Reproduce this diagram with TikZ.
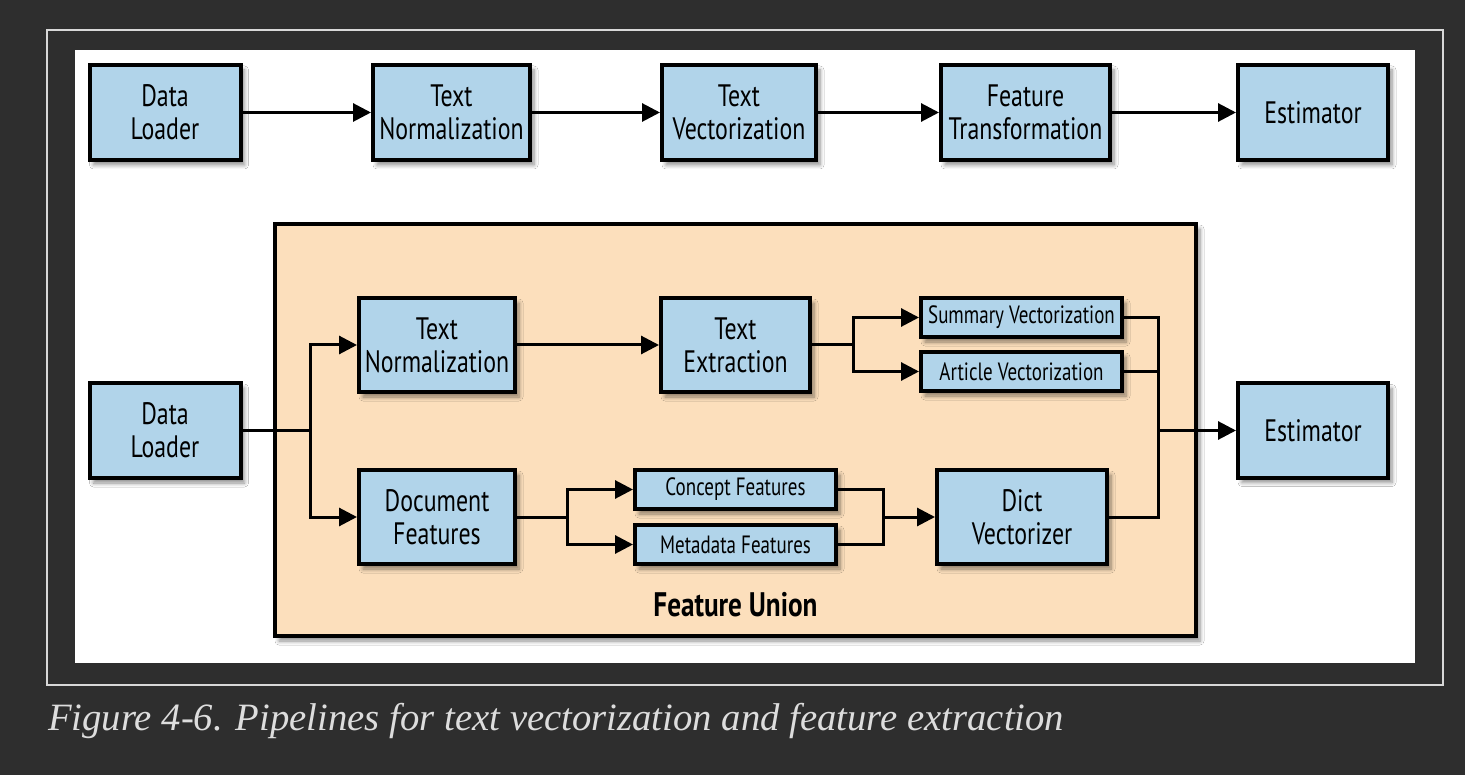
\documentclass[tikz,border=0pt]{standalone}
\usepackage{fontspec}
\setmainfont{Liberation Serif}
\newfontfamily\boxfont[FakeStretch=0.77]{PT Sans}
\newfontfamily\smallfont[FakeStretch=0.76]{PT Sans}
\newfontfamily\unionfont[FakeStretch=0.8]{PT Sans}
\usetikzlibrary{arrows.meta,shadows.blur,calc}
\definecolor{bgdark}{HTML}{2E2E2E}
\definecolor{frameline}{HTML}{D8D8D8}
\definecolor{boxblue}{HTML}{B1D4EA}
\definecolor{unionfill}{HTML}{FCDFBC}
\definecolor{captiongray}{HTML}{DDDDDD}
\tikzset{
  shadowed/.style={blur shadow={shadow xshift=4pt,shadow yshift=-5pt,shadow blur radius=4pt,shadow blur steps=6,shadow opacity=45}},
  bigbox/.style={draw=black,line width=4pt,fill=boxblue,shadowed,align=center,inner sep=0pt,
     font=\boxfont\fontsize{31}{33}\selectfont},
  smallbox/.style={draw=black,line width=4pt,fill=boxblue,shadowed,align=center,inner sep=0pt,
     minimum width=201pt,minimum height=39pt,font=\smallfont\fontsize{25}{27}\selectfont},
  unionbox/.style={draw=black,line width=4pt,fill=unionfill,shadowed,inner sep=0pt},
  link/.style={line width=3pt,draw=black},
  arr/.style={link,-{Triangle[length=18pt,width=18pt]}},
}
\begin{document}
\begin{tikzpicture}[x=1pt,y=-1pt]
\fill[bgdark] (0,0) rectangle (1465,775);
\useasboundingbox (0,0) rectangle (1465,775);
\draw[frameline,line width=1.5pt] (47,30) rectangle (1443,685);
\fill[white] (75,50) rectangle (1415,663);

% top pipeline
\node[bigbox,minimum width=151pt,minimum height=95pt] (dl1) at (165,112.5) {Data\\Loader};
\node[bigbox,minimum width=157pt,minimum height=95pt] (tn1) at (451.5,112.5) {Text\\Normalization};
\node[bigbox,minimum width=154pt,minimum height=95pt] (tv1) at (739,112.5) {Text\\Vectorization};
\node[bigbox,minimum width=169pt,minimum height=95pt] (ft1) at (1025.5,112.5) {Feature\\Transformation};
\node[bigbox,minimum width=150pt,minimum height=95pt] (es1) at (1313,112.5) {Estimator};
\draw[arr] (dl1) -- (tn1);
\draw[arr] (tn1) -- (tv1);
\draw[arr] (tv1) -- (ft1);
\draw[arr] (ft1) -- (es1);

% feature union
\node[unionbox,minimum width=921pt,minimum height=412pt] (fu) at (735.5,430) {};
\node[font=\unionfont\fontsize{34}{36}\selectfont\bfseries] (ful) at (735.5,605) {Feature Union};

\node[bigbox,minimum width=151pt,minimum height=95pt] (dl2) at (165,430.5) {Data\\Loader};
\node[bigbox,minimum width=156pt,minimum height=94pt] (tn2) at (437,345) {Text\\Normalization};
\node[bigbox,minimum width=156pt,minimum height=94pt] (df2) at (437,517) {Document\\Features};
\node[bigbox,minimum width=149pt,minimum height=94pt] (te2) at (735.5,345) {Text\\Extraction};
\node[smallbox] (sv) at (1021.5,317.5) {Summary Vectorization};
\node[smallbox] (av) at (1021.5,371.5) {Article Vectorization};
\node[smallbox] (cf) at (735.5,489.5) {Concept Features};
\node[smallbox] (mf) at (735.5,544.5) {Metadata Features};
\node[bigbox,minimum width=170pt,minimum height=94pt] (dv) at (1022,517) {Dict\\Vectorizer};
\node[bigbox,minimum width=150pt,minimum height=94pt] (es2) at (1313,430.5) {Estimator};

\coordinate (b1) at (310,430.5);
\coordinate (b2) at (853,345);
\coordinate (b3) at (567,517);
\coordinate (m1) at (1158,430.5);
\coordinate (m2) at (883,517);

\draw[link] (dl2.east) -- (b1);
\draw[arr] (b1) |- (tn2.west);
\draw[arr] (b1) |- (df2.west);
\draw[arr] (tn2) -- (te2);
\draw[link] (te2.east) -- (b2);
\draw[arr] (b2) |- (sv.west);
\draw[arr] (b2) |- (av.west);
\draw[link] (df2.east) -- (b3);
\draw[arr] (b3) |- (cf.west);
\draw[arr] (b3) |- (mf.west);
\draw[link] (cf.east) -| (m2);
\draw[link] (mf.east) -| (m2);
\draw[arr] (m2) -- (dv.west);
\draw[link] (sv.east) -| (m1);
\draw[link] (av.east) -| (m1);
\draw[link] (dv.east) -| (m1);
\draw[arr] (m1) -- (es2.west);

% caption
\node[anchor=west,text=captiongray,inner sep=0pt,font=\itshape\fontsize{38.7}{42}\selectfont] (cap) at (48,721) {Figure 4-6. Pipelines for text vectorization and feature extraction};
\end{tikzpicture}
\end{document}
